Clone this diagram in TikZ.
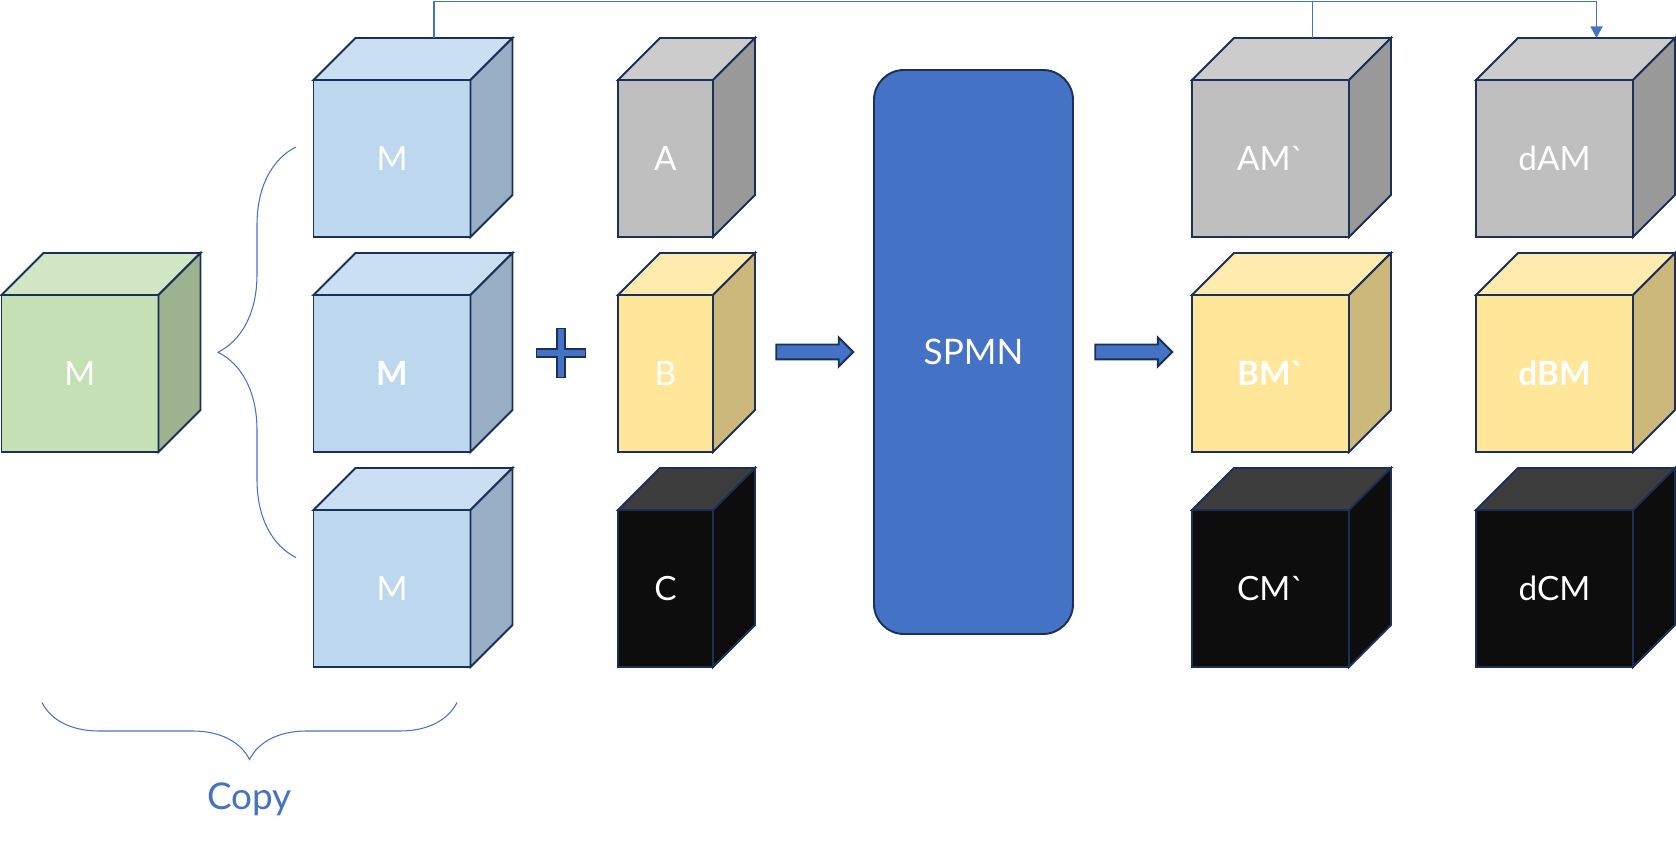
\documentclass[tikz,border=0pt]{standalone}
\usepackage{fontspec}
\setmainfont{Lato}
\usetikzlibrary{arrows.meta,shapes.arrows,decorations.pathreplacing}

\definecolor{edgenavy}{HTML}{1B3058}
\definecolor{linkblue}{HTML}{4472C4}
\definecolor{spmnblue}{HTML}{4472C4}
\definecolor{greenfront}{HTML}{C5E0B4}
\definecolor{greentop}{HTML}{D1E6C3}
\definecolor{greenside}{HTML}{9DB390}
\definecolor{bluefront}{HTML}{BDD7EE}
\definecolor{bluetop}{HTML}{CBDFF2}
\definecolor{blueside}{HTML}{97AEC4}
\definecolor{grayfront}{HTML}{BFBFBF}
\definecolor{graytop}{HTML}{CCCCCC}
\definecolor{grayside}{HTML}{999999}
\definecolor{yellowfront}{HTML}{FFE699}
\definecolor{yellowtop}{HTML}{FFEBAD}
\definecolor{yellowside}{HTML}{CCB87A}
\definecolor{blackfront}{HTML}{0D0D0D}
\definecolor{blacktop}{HTML}{3D3D3D}
\definecolor{blackside}{HTML}{0D0D0D}

% top and right faces of a cube, drawn from the front node
\newcommand{\cubefaces}[3]{%
	\draw[cubeedge, fill=#2] (#1.north west) -- ++(0.84,0.84) -- ([shift={(0.84,0.84)}]#1.north east) -- (#1.north east) -- cycle;
	\draw[cubeedge, fill=#3] (#1.north east) -- ++(0.84,0.84) -- ([shift={(0.84,0.84)}]#1.south east) -- (#1.south east) -- cycle;
}

\begin{document}
\begin{tikzpicture}[
	cube/.style={draw=edgenavy, line width=1.1pt, inner sep=0pt, outer sep=0pt, minimum width=3.14cm, minimum height=3.14cm, text=white, font=\fontsize{19}{23}\selectfont},
	slim/.style={minimum width=1.9cm},
	cubeedge/.style={draw=edgenavy, line width=1.1pt},
	link/.style={draw=linkblue, line width=0.6pt},
	bigarrow/.style={single arrow, draw=edgenavy, line width=1.1pt, fill=spmnblue, minimum height=1.54cm, inner xsep=0pt, inner ysep=0.13cm, single arrow head extend=0.14cm},
	spmnbox/.style={draw=edgenavy, line width=1.1pt, fill=spmnblue, rounded corners=0.6cm, minimum width=3.98cm, minimum height=11.28cm, text=white, font=\fontsize{20}{24}\selectfont}
	]
	\useasboundingbox (-1.6,7.47) rectangle (31.92,-9.37);

	\node[cube, fill=greenfront](M0){M};
	\cubefaces{M0}{greentop}{greenside}

	\node[cube, fill=bluefront, right of=M0, node distance=6.24cm](M2){\textbf{M}};
	\node[cube, fill=bluefront, above of=M2, node distance=4.3cm](M1){M};
	\node[cube, fill=bluefront, below of=M2, node distance=4.3cm](M3){M};
	\cubefaces{M1}{bluetop}{blueside}
	\cubefaces{M2}{bluetop}{blueside}
	\cubefaces{M3}{bluetop}{blueside}

	\coordinate[left of=M1, node distance=1.92cm, yshift=0.23cm](BRT);
	\coordinate[left of=M3, node distance=1.92cm, yshift=0.62cm](BRB);
	\draw[link, decorate, decoration={brace, amplitude=1.56cm}] (BRB) -- (BRT);

	\coordinate[below of=M3, node distance=2.28cm, xshift=-7cm](CPL);
	\coordinate[below of=M3, node distance=2.28cm, xshift=1.3cm](CPR);
	\draw[link, decorate, decoration={brace, amplitude=1.14cm}] (CPR) -- node[yshift=-1.93cm, text=linkblue, font=\fontsize{21}{25}\selectfont](CP){Copy} (CPL);

	\coordinate[right of=M2, node distance=3.38cm, yshift=0.41cm](PLUS);
	\draw[cubeedge, line width=1pt, fill=spmnblue] (PLUS) ++(-0.49,0.085) -- ++(0.405,0) -- ++(0,0.405) -- ++(0.17,0) -- ++(0,-0.405) -- ++(0.405,0) -- ++(0,-0.17) -- ++(-0.405,0) -- ++(0,-0.405) -- ++(-0.17,0) -- ++(0,0.405) -- ++(-0.405,0) -- cycle;

	\node[cube, slim, fill=grayfront, right of=M1, node distance=5.47cm](A){A};
	\node[cube, slim, fill=yellowfront, right of=M2, node distance=5.47cm](B){B};
	\node[cube, slim, fill=blackfront, right of=M3, node distance=5.47cm](C){C};
	\cubefaces{A}{graytop}{grayside}
	\cubefaces{B}{yellowtop}{yellowside}
	\cubefaces{C}{blacktop}{blackside}

	\node[spmnbox, right of=B, node distance=6.16cm, yshift=0.43cm](SPMN){SPMN};
	\node[bigarrow, left of=SPMN, node distance=3.25cm](AR1){};
	\node[bigarrow, right of=SPMN, node distance=3.13cm](AR2){};

	\node[cube, fill=grayfront, right of=A, node distance=12.1cm](AM){AM\textasciigrave};
	\node[cube, fill=yellowfront, right of=B, node distance=12.1cm](BM){\textbf{BM\textasciigrave}};
	\node[cube, fill=blackfront, right of=C, node distance=12.1cm](CM){CM\textasciigrave};
	\cubefaces{AM}{graytop}{grayside}
	\cubefaces{BM}{yellowtop}{yellowside}
	\cubefaces{CM}{blacktop}{blackside}

	\node[cube, fill=grayfront, right of=AM, node distance=5.68cm](dAM){dAM};
	\node[cube, fill=yellowfront, right of=BM, node distance=5.68cm](dBM){\textbf{dBM}};
	\node[cube, fill=blackfront, right of=CM, node distance=5.68cm](dCM){dCM};
	\cubefaces{dAM}{graytop}{grayside}
	\cubefaces{dBM}{yellowtop}{yellowside}
	\cubefaces{dCM}{blacktop}{blackside}

	\coordinate (M1top) at ([shift={(0.84,0.84)}]M1.north);
	\coordinate (AMtop) at ([shift={(0.84,0.84)}]AM.north);
	\coordinate (dAMtop) at ([shift={(0.84,0.84)}]dAM.north);
	\coordinate[above of=M1top, node distance=0.73cm](TOPL);
	\draw[link, -{Triangle[width=0.24cm, length=0.23cm]}] (M1top) -- (TOPL) -| (dAMtop);
	\draw[link] (AMtop) -- (AMtop |- TOPL);
\end{tikzpicture}
\end{document}
